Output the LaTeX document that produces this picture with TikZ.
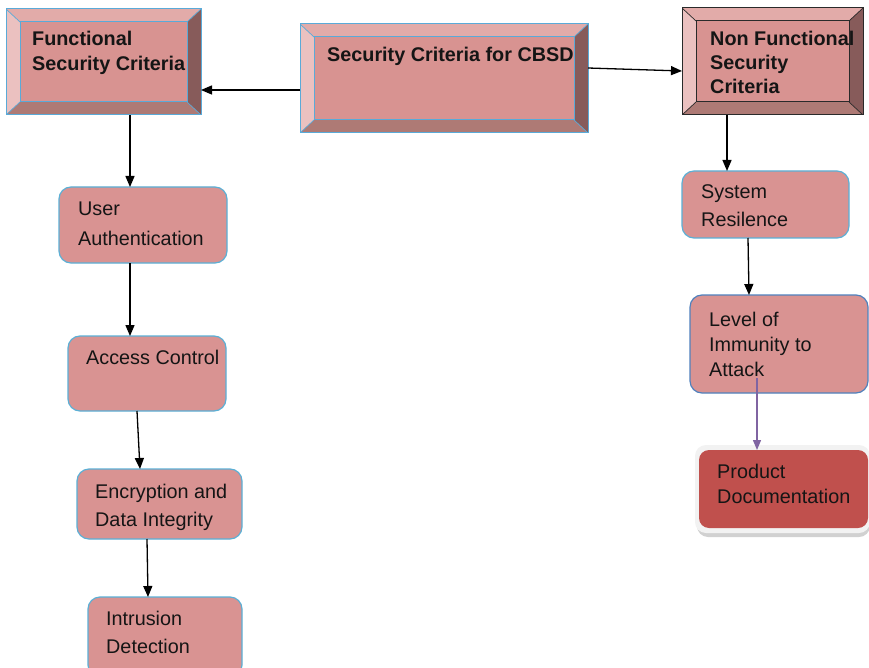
\documentclass[tikz,border=0pt]{standalone}
\usepackage{fontspec}
\setmainfont{Liberation Sans}
\usetikzlibrary{arrows.meta}
\definecolor{bvface}{HTML}{D89391}
\definecolor{bvtop}{HTML}{E2ABA9}
\definecolor{bvleft}{HTML}{EBC1C0}
\definecolor{bvright}{HTML}{875B5A}
\definecolor{bvbottom}{HTML}{AE7A75}
\definecolor{bvblue}{HTML}{5AAAD8}
\definecolor{bvdark}{HTML}{2A2A2A}
\definecolor{rfill}{HTML}{D99392}
\definecolor{rline}{HTML}{5BB0D6}
\definecolor{rline2}{HTML}{4F81BD}
\definecolor{pdfill}{HTML}{C0504D}
\definecolor{txtc}{HTML}{151515}
\definecolor{purp}{HTML}{8064A2}
\tikzset{
  bevel/.style={inner sep=0pt, outer sep=0pt, anchor=north west, fill=bvface,
    draw=#1, line width=1pt,
    path picture={
      \coordinate (pnw) at (path picture bounding box.north west);
      \coordinate (pne) at (path picture bounding box.north east);
      \coordinate (psw) at (path picture bounding box.south west);
      \coordinate (pse) at (path picture bounding box.south east);
      \coordinate (inw) at ([shift={(14pt,-13pt)}]pnw);
      \coordinate (ine) at ([shift={(-14pt,-13pt)}]pne);
      \coordinate (isw) at ([shift={(14pt,13pt)}]psw);
      \coordinate (ise) at ([shift={(-14pt,13pt)}]pse);
      \fill[bvtop] (pnw) -- (pne) -- (ine) -- (inw) -- cycle;
      \fill[bvleft] (pnw) -- (inw) -- (isw) -- (psw) -- cycle;
      \fill[bvright] (pne) -- (ine) -- (ise) -- (pse) -- cycle;
      \fill[bvbottom] (psw) -- (isw) -- (ise) -- (pse) -- cycle;
      \draw[#1, line width=1pt] (inw) rectangle (ise);
      \draw[#1, line width=0.7pt] (pnw) -- (inw) (pne) -- (ine) (psw) -- (isw) (pse) -- (ise);
    }},
  rbox/.style={inner sep=0pt, outer sep=0pt, anchor=north west, fill=rfill,
    draw=rline, line width=1.2pt, rounded corners=12pt},
  txt/.style={anchor=base west, inner sep=0pt, text=txtc},
  arr/.style={draw=black, line width=1.3pt, -{Triangle[length=11pt,width=9pt]}},
}
\newcommand\lns[1]{\parbox[t]{300pt}{#1}}
\begin{document}
\begin{tikzpicture}[x=1pt,y=-1pt]
\useasboundingbox (0,0) rectangle (869,668);
\fill[white] (0,0) rectangle (869,668);

% bevel boxes
\node[bevel=bvblue, minimum width=195pt, minimum height=106pt] (func) at (6,9) {};
\node[bevel=bvblue, minimum width=288pt, minimum height=109pt] (cbsd) at (300,24) {};
\node[bevel=bvdark, minimum width=181pt, minimum height=107pt] (nonf) at (682,8) {};

\node[txt, font=\bfseries\fontsize{19.8}{25}\selectfont] (tfunc) at (32,46) {\lns{Functional\\Security Criteria}};
\node[txt, font=\bfseries\fontsize{19.8}{25}\selectfont] (tcbsd) at (327,62) {Security Criteria for CBSD};
\node[txt, font=\bfseries\fontsize{19.8}{24}\selectfont] (tnonf) at (710,46) {\lns{Non Functional\\Security\\Criteria}};

% rounded boxes, left column
\node[rbox, minimum width=168pt, minimum height=76pt] (ua) at (59,187) {};
\node[rbox, minimum width=158pt, minimum height=75pt] (ac) at (68,336) {};
\node[rbox, minimum width=165pt, minimum height=70pt] (enc) at (77,469) {};
\node[rbox, minimum width=154pt, minimum height=80pt] (ids) at (88,597) {};

\node[txt, font=\fontsize{19.8}{29}\selectfont] (tua) at (78,216) {\lns{User\\Authentication}};
\node[txt, font=\fontsize{19.8}{28}\selectfont] (tac) at (86,364) {Access Control};
\node[txt, font=\fontsize{19.8}{28}\selectfont] (tenc) at (95,498) {\lns{Encryption and\\Data Integrity}};
\node[txt, font=\fontsize{19.8}{28}\selectfont] (tids) at (106,625) {\lns{Intrusion\\Detection}};

% right column
\node[rbox, minimum width=167pt, minimum height=67pt] (sr) at (682,171) {};
\node[rbox, draw=rline2, minimum width=178pt, minimum height=98pt] (lvl) at (690,295) {};

\fill[black!18, rounded corners=11pt] (697,452) rectangle (870,537);
\fill[black!5, rounded corners=11pt] (695,445) rectangle (870,533);
\node[inner sep=0pt, outer sep=0pt, anchor=north west, fill=pdfill, rounded corners=10pt,
  minimum width=169pt, minimum height=78pt] (pd) at (699,450) {};

\node[txt, font=\fontsize{19.8}{28}\selectfont] (tsr) at (701,199) {\lns{System\\Resilence}};
\node[txt, font=\fontsize{19.8}{25}\selectfont] (tlvl) at (709,326) {\lns{Level of\\Immunity to\\Attack}};
\node[txt, font=\fontsize{19.8}{25}\selectfont] (tpd) at (717,478) {\lns{Product\\Documentation}};

% connectors
\draw[arr] (cbsd.west |- 0,90) -- (func.east |- 0,90);
\draw[arr] ([yshift=-44pt]cbsd.north east) -- ([yshift=-63pt]nonf.north west);
\draw[arr] ([xshift=124pt]func.south west) -- ([xshift=71pt]ua.north west);
\draw[arr] ([xshift=71pt]ua.south west) -- ([xshift=62pt]ac.north west);
\draw[arr] ([xshift=69pt]ac.south west) -- ([xshift=63pt]enc.north west);
\draw[arr] ([xshift=70pt]enc.south west) -- ([xshift=60pt]ids.north west);
\draw[arr] ([xshift=45pt]nonf.south west) -- ([xshift=45pt]sr.north west);
\draw[arr] ([xshift=66pt]sr.south west) -- ([xshift=59pt]lvl.north west);
\coordinate (lvlout) at (757,378);
\draw[draw=purp, line width=1.3pt, -{Triangle[length=10pt,width=8pt]}] (lvlout) -- ([xshift=58pt]pd.north west);
\end{tikzpicture}
\end{document}
